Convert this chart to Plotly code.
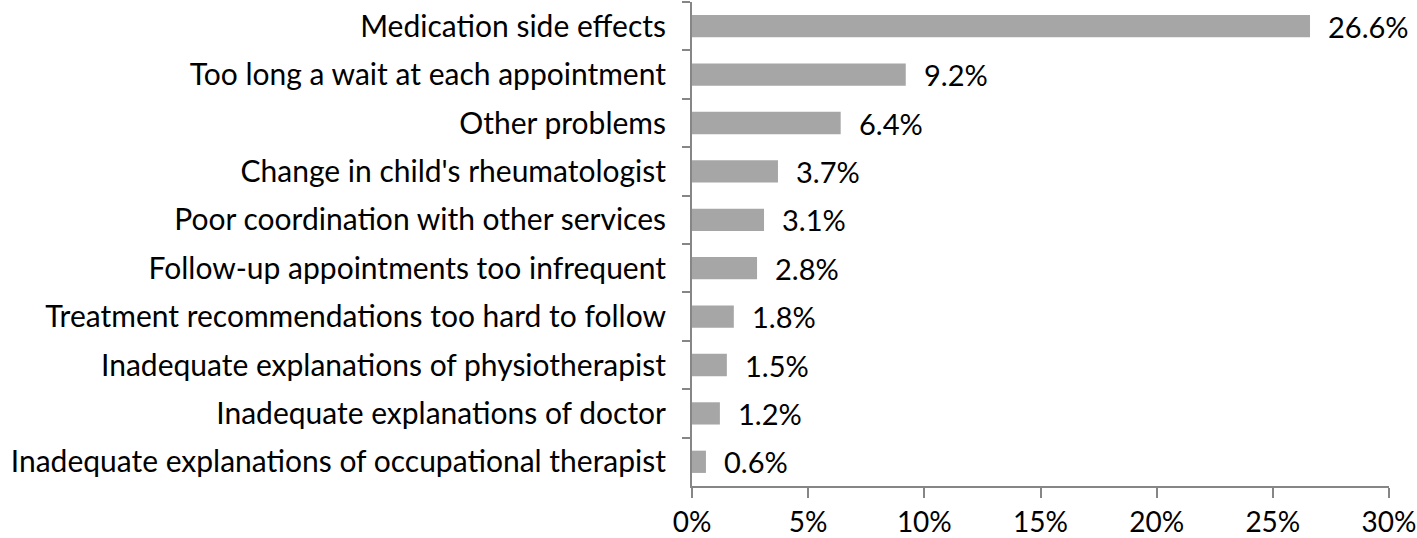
import plotly.graph_objects as go

categories = [
    "Medication side effects",
    "Too long a wait at each appointment",
    "Other problems",
    "Change in child's rheumatologist",
    "Poor coordination with other services",
    "Follow-up appointments too infrequent",
    "Treatment recommendations too hard to follow",
    "Inadequate explanations of physiotherapist",
    "Inadequate explanations of doctor",
    "Inadequate explanations of occupational therapist",
]
values = [26.6, 9.2, 6.4, 3.7, 3.1, 2.8, 1.8, 1.5, 1.2, 0.6]
x_ticks = [0, 5, 10, 15, 20, 25, 30]
x_tick_labels = ["0%", "5%", "10%", "15%", "20%", "25%", "30%"]

FONT = "Lato"
FS = 30
AXIS_COLOR = "#868686"

fig = go.Figure()
fig.add_trace(go.Bar(
    x=values,
    y=categories,
    orientation="h",
    marker=dict(color="#a6a6a6", line=dict(width=0)),
    hoverinfo="skip",
))

for c, v in zip(categories, values):
    fig.add_annotation(
        x=v, y=c, xref="x", yref="y",
        text=f"{v:.1f}%",
        showarrow=False,
        xanchor="left", yanchor="middle",
        xshift=16,
        font=dict(family=FONT, size=29, color="#000000"),
    )

fig.update_layout(
    width=1417, height=538,
    margin=dict(l=692, r=28, t=2, b=52, autoexpand=False),
    plot_bgcolor="white", paper_bgcolor="white",
    bargap=0.54,
    showlegend=False,
    font=dict(family=FONT, size=FS, color="#000000"),
)
fig.update_xaxes(
    range=[0, 30],
    tickvals=x_ticks,
    ticktext=x_tick_labels,
    showgrid=False,
    zeroline=False,
    automargin=False,
    showline=True, linecolor=AXIS_COLOR, linewidth=2,
    ticks="outside", ticklen=10, tickwidth=2, tickcolor=AXIS_COLOR,
    ticklabelstandoff=0,
    ticklabeloverflow="allow",
    tickfont=dict(family=FONT, size=28, color="#000000"),
)
fig.update_yaxes(
    categoryorder="array",
    categoryarray=categories,
    autorange="reversed",
    showgrid=False,
    automargin=False,
    showline=True, linecolor=AXIS_COLOR, linewidth=2,
    ticks="outside", ticklen=8, tickwidth=2, tickcolor=AXIS_COLOR,
    tickson="boundaries",
    ticklabelstandoff=18,
    tickfont=dict(family=FONT, size=FS, color="#000000"),
)

fig.write_html(
    "out.html",
    config={"displayModeBar": False},
    post_script="document.body.style.margin='0';document.body.style.overflow='hidden';",
)
